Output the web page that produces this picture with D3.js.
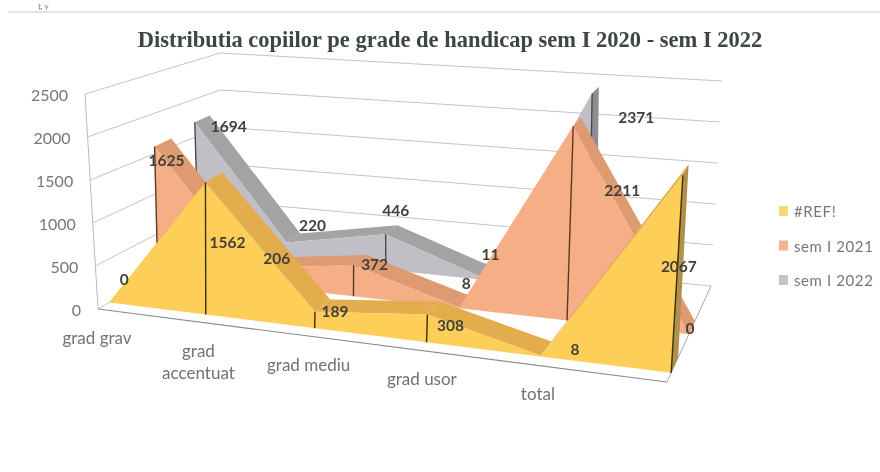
<!DOCTYPE html>
<html>
<head>
<meta charset="utf-8">
<script src="https://cdn.jsdelivr.net/npm/d3@7"></script>
<style>
  html, body { margin: 0; background: #fff; }
  text { font-family: Lato, "Open Sans", sans-serif; }
</style>
</head>
<body>
<div id="chart"></div>
<script>
(function () {
    "use strict";

    const categories = ["grad grav", "grad accentuat", "grad mediu", "grad usor", "total"];
    const valueTicks = [0, 500, 1000, 1500, 2000, 2500];
    const seriesNames = ["#REF!", "sem I 2021", "sem I 2022"];

    const ref2020 = [0, 1562, 189, 308, 8, 2067];
    const sem2021 = [1625, 206, 372, 8, 2211, 0];
    const sem2022 = [1694, 220, 446, 11, 2371];

    // label nudges relative to each point, the 3d view leaves no single rule for them
    const refNudge = [[15, -22], [22, 60], [20, 0], [23, 12], [34, -6], [-4, 92]];
    const nudge2021 = [[12, 15], [27, -9], [21, 0], [7, -24], [49, 65], [1, -5]];
    const nudge2022 = [[34, 5], [26, -16], [10, -23], [4, -24], [44, 24]];

    const width = 880, height = 472;

    // walls and floor of the box, as seen on the page
    const floorQuad = [[98, 309], [667, 382], [711, 286], [220, 238]];
    const wallTopQuad = [[85, 94], [682, 140], [722, 81], [220, 53]];
    // the marks lean less than the walls do in the picture: shift of 2500 above each floor corner
    const markLift = [[-4, -206], [15, -242], [4, -205], [-6, -185]];

    const quadMap = (q) => {
        const [p0, p1, p2, p3] = q;
        const sx = p0[0] - p1[0] + p2[0] - p3[0], sy = p0[1] - p1[1] + p2[1] - p3[1];
        const dx1 = p1[0] - p2[0], dx2 = p3[0] - p2[0];
        const dy1 = p1[1] - p2[1], dy2 = p3[1] - p2[1];
        const den = dx1 * dy2 - dx2 * dy1;
        const g = (sx * dy2 - dx2 * sy) / den, h = (dx1 * sy - sx * dy1) / den;
        const a = p1[0] - p0[0] + g * p1[0], b = p3[0] - p0[0] + h * p3[0];
        const d = p1[1] - p0[1] + g * p1[1], e = p3[1] - p0[1] + h * p3[1];
        return (u, w) => {
            const k = g * u + h * w + 1;
            return [(a * u + b * w + p0[0]) / k, (d * u + e * w + p0[1]) / k];
        };
    };

    const floorMap = quadMap(floorQuad);
    const wallMap = quadMap(wallTopQuad);

    const uScale = d3.scaleLinear().domain([0, 1, 2, 3, 4, 5]).range([0, 0.2, 0.41, 0.61, 0.8, 1]);
    const vScale = d3.scaleLinear().domain([0, 2500]).range([0, 1]);

    const wall = (i, value, z) => {
        const u = uScale(i), v = vScale(value);
        const lo = floorMap(u, z), hi = wallMap(u, z);
        return [lo[0] + (hi[0] - lo[0]) * v, lo[1] + (hi[1] - lo[1]) * v];
    };

    const project = (i, value, z) => {
        const u = uScale(i), v = vScale(value);
        const lo = floorMap(u, z);
        const mix = (k) => (1 - z) * ((1 - u) * markLift[0][k] + u * markLift[1][k])
            + z * ((1 - u) * markLift[3][k] + u * markLift[2][k]);
        return [lo[0] + mix(0) * v, lo[1] + mix(1) * v];
    };

    const poly = d3.line();

    const svg = d3.select("#chart").append("svg")
        .attr("width", width).attr("height", height)
        .style("display", "block");

    const defs = svg.append("defs");
    defs.append("filter").attr("id", "scan")
        .attr("x", 0).attr("y", 0).attr("width", 1).attr("height", 1)
        .attr("filterUnits", "objectBoundingBox")
        .append("feGaussianBlur").attr("stdDeviation", 0.45);

    const root = svg.append("g").attr("filter", "url(#scan)");
    root.append("rect").attr("width", width).attr("height", height).attr("fill", "#fff");

    // scan leftovers at the top of the page
    root.append("text").attr("x", 38).attr("y", 9)
        .attr("font-size", 8).attr("fill", "#777").text("ț, y");
    root.append("line").attr("x1", 8).attr("x2", width).attr("y1", 12).attr("y2", 12)
        .attr("stroke", "#c9c9c9");

    root.append("text").attr("x", 450).attr("y", 47)
        .attr("text-anchor", "middle")
        .style("font-family", "'Liberation Serif', serif")
        .attr("font-weight", "bold").attr("font-size", 22.5).attr("fill", "#3c4444")
        .text("Distributia copiilor pe grade de handicap sem I 2020 - sem I 2022");

    // gridlines on the side and back walls
    const grid = root.append("g").attr("fill", "none").attr("stroke", "#c4c4c4");
    valueTicks.forEach(t => {
        grid.append("path").attr("d", poly([wall(0, t, 0), wall(0, t, 1), wall(5, t, 1)]));
    });
    grid.append("path").attr("stroke", "#bbb")
        .attr("d", poly([wall(0, 2500, 0), wall(0, 0, 0)]));
    root.append("path").attr("fill", "none").attr("stroke", "#8c8c8c").attr("stroke-width", 1.2)
        .attr("d", poly([wall(0, 0, 0), wall(5, 0, 0)]));
    root.append("path").attr("fill", "none").attr("stroke", "#a8a8a8")
        .attr("d", poly([wall(5, 0, 0), wall(5, 0, 1)]));

    // y tick labels
    root.append("g").selectAll("text").data(valueTicks).join("text")
        .attr("x", t => wall(0, t, 0)[0] - 17)
        .attr("y", t => wall(0, t, 0)[1] + 7)
        .attr("text-anchor", "end").attr("font-size", 16).attr("fill", "#767676")
        .text(t => t);

    // category labels, split the long one on two lines
    const catText = root.append("g").selectAll("text").data(categories).join("text")
        .attr("text-anchor", "middle").attr("font-size", 17).attr("fill", "#727272")
        .attr("transform", (c, i) => {
            const p = wall(i, 0, 0);
            return `translate(${p[0] + (i === 0 ? -1 : 3)},${p[1] + 30})`;
        });
    catText.each(function (c, i) {
        const parts = i === 1 ? c.split(" ") : [c];
        d3.select(this).selectAll("tspan").data(parts).join("tspan")
            .attr("x", 0).attr("dy", (d, j) => j ? 22 : 5).text(d => d);
    });

    const allSeries = [
        { values: sem2022, nudge: nudge2022, z0: 0.80, z1: 0.94, face: "#bfbfc5", top: "#a5a2a4", side: "#8f8c94", line: "#4c4a4c", ticks: [0, 2, 4], cap: true },
        { values: sem2021, nudge: nudge2021, z0: 0.45, z1: 0.59, face: "#f5ae86", top: "#de9a70", side: "#c98a62", line: "#5c3a28", ticks: [0, 2, 4], cap: false },
        { values: ref2020, nudge: refNudge, z0: 0.08, z1: 0.22, face: "#fdcf58", top: "#e3ad4e", side: "#b39048", line: "#3a3008", ticks: [1, 2, 3, 5], cap: true }
    ];

    // back to front, top ribbons go under the face of the same series
    allSeries.forEach(s => {
        const g = root.append("g");
        const last = s.values.length - 1;

        d3.pairs(d3.range(s.values.length)).forEach(([a, b]) => {
            g.append("path").attr("fill", s.top).attr("d", poly([
                project(a, s.values[a], s.z0), project(b, s.values[b], s.z0),
                project(b, s.values[b], s.z1), project(a, s.values[a], s.z1)
            ]) + "Z");
        });

        if (s.cap) {
            g.append("path").attr("fill", s.side).attr("d", poly([
                project(last, s.values[last], s.z0), project(last, s.values[last], s.z1),
                project(last, 0, s.z1), project(last, 0, s.z0)
            ]) + "Z");
        }

        const front = s.values.map((v, i) => project(i, v, s.z0));
        const base = [project(last, 0, s.z0), project(0, 0, s.z0)];
        g.append("path").attr("fill", s.face).attr("d", poly(front.concat(base)) + "Z");

        s.ticks.forEach(i => {
            g.append("path").attr("fill", "none").attr("stroke", s.line).attr("stroke-width", 1.4)
                .attr("d", poly([project(i, s.values[i], s.z0), project(i, 0, s.z0)]));
        });
    });

    // data labels sit on top of every mark
    allSeries.forEach(s => {
        root.append("g").selectAll("text").data(s.values).join("text")
            .attr("x", (v, i) => project(i, v, s.z0)[0] + s.nudge[i][0])
            .attr("y", (v, i) => project(i, v, s.z0)[1] + s.nudge[i][1] + 5)
            .attr("text-anchor", "middle").attr("font-size", 15.5).attr("font-weight", "bold")
            .attr("fill", "#43413a")
            .text(v => v);
    });

    // legend
    const legendY = d3.scalePoint().domain(seriesNames).range([211, 280]);
    const legendColors = d3.scaleOrdinal().domain(seriesNames).range(["#fbd877", "#f5b491", "#c4c4cb"]);
    const legend = root.append("g").selectAll("g").data(seriesNames).join("g")
        .attr("transform", d => `translate(779,${legendY(d)})`);
    legend.append("rect").attr("y", -5).attr("width", 9).attr("height", 10).attr("fill", d => legendColors(d));
    legend.append("text").attr("x", 15).attr("y", 6)
        .attr("font-size", 15).attr("letter-spacing", 0.6).attr("fill", "#767676")
        .text(d => d);
})();
</script>
</body>
</html>
